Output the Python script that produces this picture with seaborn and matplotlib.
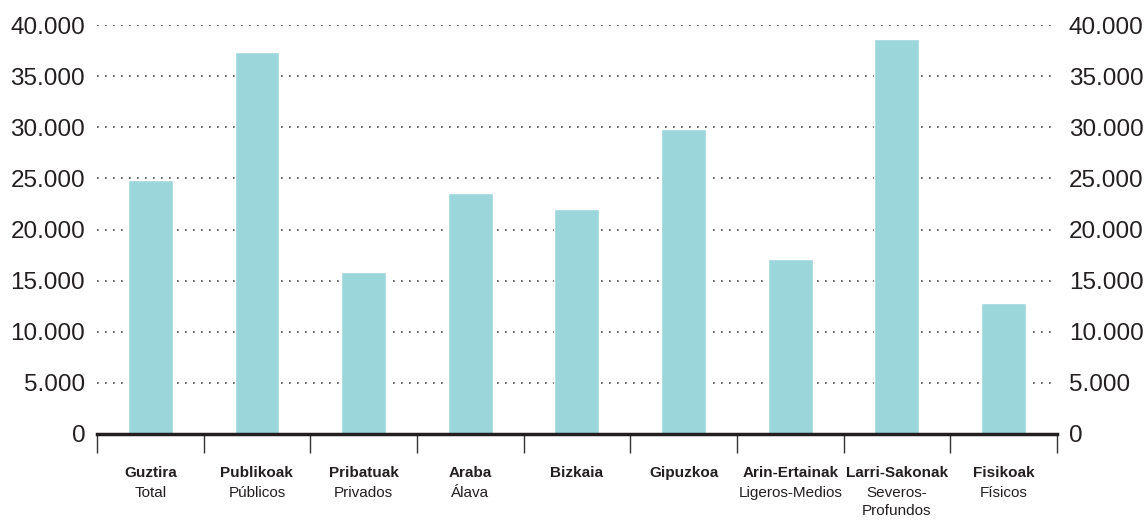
import matplotlib
matplotlib.use("Agg")
import matplotlib.pyplot as plt
import matplotlib.ticker as mticker
import pandas as pd
import seaborn as sns

# data
categories = ["Guztira", "Publikoak", "Pribatuak", "Araba", "Bizkaia",
              "Gipuzkoa", "Arin-Ertainak", "Larri-Sakonak", "Fisikoak"]
subtitles = ["Total", "Públicos", "Privados", "Álava", "",
             "", "Ligeros-Medios", "Severos-\nProfundos", "Físicos"]
values = [24800, 37400, 15800, 23600, 22000, 29800, 17100, 38600, 12800]
y_ticks = [0, 5000, 10000, 15000, 20000, 25000, 30000, 35000, 40000]

BAR_COLOR = "#9BD7DA"
TEXT_COLOR = "#231F20"

sns.set_style("white")
plt.rcParams["font.family"] = ["Liberation Sans", "DejaVu Sans"]

df = pd.DataFrame({"category": categories, "value": values})

fig = plt.figure(figsize=(11.46, 5.21), dpi=100)
ax = fig.add_axes([0.0846, 0.167, 0.8376, 0.785])

sns.barplot(data=df, x="category", y="value", color=BAR_COLOR,
            width=0.42, saturation=1, ax=ax, zorder=3)

ax.set_xlim(-0.5, len(categories) - 0.5)
ax.set_ylim(0, 40000)
ax.set_yticks(y_ticks)
ax.yaxis.set_major_formatter(
    mticker.FuncFormatter(lambda v, p: f"{int(v):,}".replace(",", ".")))
ax.tick_params(axis="y", left=False, right=False, labelleft=True,
               labelright=True, labelsize=17.5, labelcolor=TEXT_COLOR, pad=5)

# dotted gridlines
ax.grid(axis="y", color="#444444", linestyle=(0, (1, 3.8)), linewidth=1.2, zorder=1)
ax.grid(axis="x", visible=False)
ax.set_axisbelow(True)

for side in ["top", "left", "right"]:
    ax.spines[side].set_visible(False)
ax.spines["bottom"].set_linewidth(2.5)
ax.spines["bottom"].set_color(TEXT_COLOR)
ax.spines["bottom"].set_zorder(4)

# separators between categories
ax.set_xticks([i - 0.5 for i in range(len(categories) + 1)], minor=True)
ax.tick_params(axis="x", which="minor", bottom=True, length=14, width=1.0,
               color="#333333", direction="out")
ax.tick_params(axis="x", which="major", length=0)
ax.set_xticklabels([])
ax.set_xlabel("")
ax.set_ylabel("")

trans = ax.get_xaxis_transform()
for i, (cat, sub) in enumerate(zip(categories, subtitles)):
    ax.text(i, -0.095, cat, transform=trans, ha="center", va="center",
            fontsize=11, fontweight="bold", color=TEXT_COLOR)
    if sub:
        ax.text(i, -0.127, sub, transform=trans, ha="center", va="top",
                fontsize=11, color=TEXT_COLOR, linespacing=1.35)

fig.savefig("out.png", dpi=100)
